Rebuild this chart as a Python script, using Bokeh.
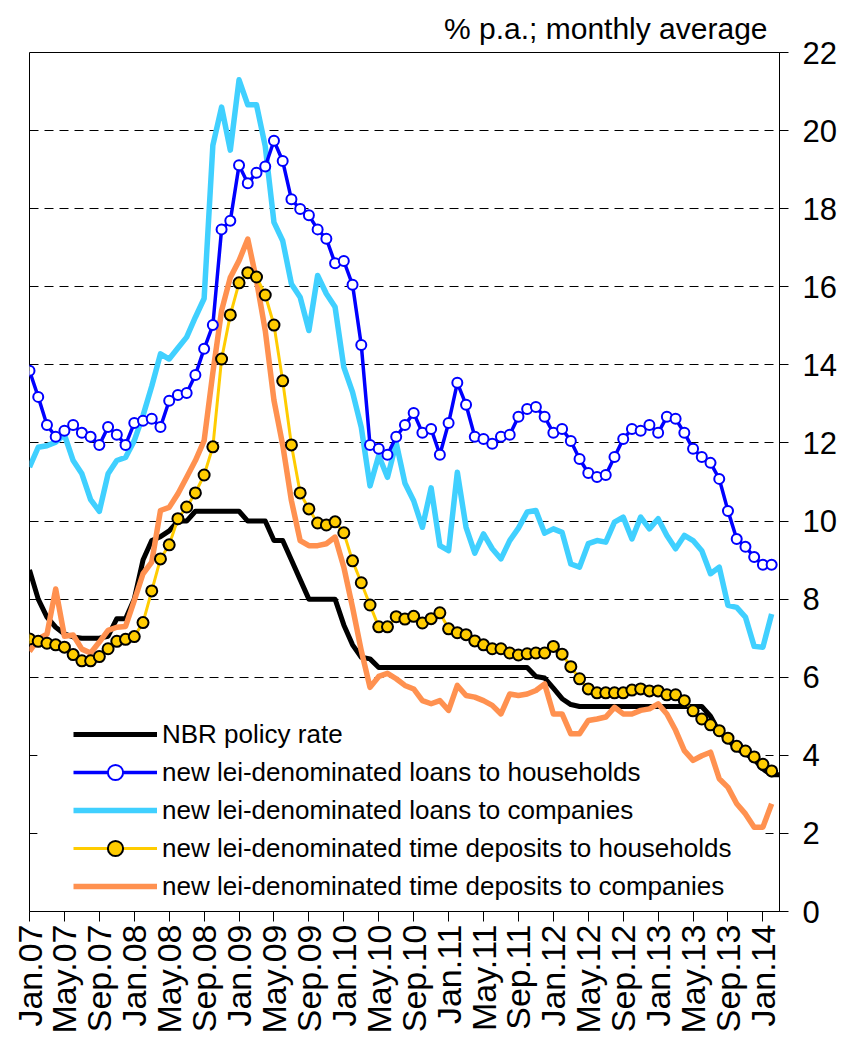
import math
from bokeh.plotting import figure
from bokeh.models import Range1d, FixedTicker, Legend, LegendItem, Title, BoxAnnotation
from bokeh.embed import file_html
from bokeh.resources import INLINE

# ---------------- data (monthly, Jan.07 = index 0) ----------------
tick_labels = ["Jan.07", "May.07", "Sep.07", "Jan.08", "May.08", "Sep.08",
               "Jan.09", "May.09", "Sep.09", "Jan.10", "May.10", "Sep.10",
               "Jan.11", "May.11", "Sep.11", "Jan.12", "May.12", "Sep.12",
               "Jan.13", "May.13", "Sep.13", "Jan.14"]

nbr_policy_rate = [8.75, 8.0, 7.54, 7.28, 7.11, 7.03, 7.0, 7.0, 7.0, 7.05,
                   7.5, 7.5, 8.0, 9.0, 9.5, 9.6, 9.75, 10.0, 10.0, 10.25,
                   10.25, 10.25, 10.25, 10.25, 10.25, 10.0, 10.0, 10.0, 9.5, 9.5,
                   9.0, 8.5, 8.0, 8.0, 8.0, 8.0, 7.34, 6.83, 6.51, 6.47,
                   6.25, 6.25, 6.25, 6.25, 6.25, 6.25, 6.25, 6.25, 6.25, 6.25,
                   6.25, 6.25, 6.25, 6.25, 6.25, 6.25, 6.25, 6.25, 6.02, 5.98,
                   5.72, 5.45, 5.3, 5.25, 5.25, 5.25, 5.25, 5.25, 5.25, 5.25,
                   5.25, 5.25, 5.25, 5.25, 5.25, 5.25, 5.25, 5.25, 5.0, 4.59,
                   4.4, 4.17, 4.04, 3.9, 3.65, 3.5, 3.5]

loans_households = [13.85, 13.18, 12.46, 12.16, 12.31, 12.46, 12.26, 12.16, 11.95, 12.41,
                    12.21, 11.95, 12.51, 12.57, 12.62, 12.41, 13.08, 13.23, 13.28, 13.74,
                    14.41, 15.02, 17.47, 17.69, 19.11, 18.65, 18.92, 19.08, 19.74, 19.22,
                    18.24, 17.99, 17.83, 17.47, 17.23, 16.60, 16.66, 16.05, 14.51, 11.95,
                    11.85, 11.70, 12.16, 12.46, 12.77, 12.26, 12.36, 11.70, 12.51, 13.54,
                    12.98, 12.16, 12.10, 11.98, 12.16, 12.21, 12.67, 12.87, 12.92, 12.67,
                    12.26, 12.36, 12.05, 11.59, 11.23, 11.13, 11.18, 11.64, 12.10, 12.36,
                    12.31, 12.46, 12.26, 12.67, 12.62, 12.26, 11.85, 11.64, 11.49, 11.08,
                    10.26, 9.54, 9.34, 9.08, 8.88, 8.88]

loans_companies = [11.38, 11.89, 11.93, 12.02, 12.21, 11.55, 11.21, 10.55, 10.25, 11.21,
                   11.55, 11.63, 12.06, 12.70, 13.45, 14.28, 14.15, 14.43, 14.71, 15.22,
                   15.70, 19.62, 20.60, 19.50, 21.30, 20.66, 20.66, 19.60, 17.65, 17.18,
                   16.07, 15.73, 14.88, 16.29, 15.82, 15.48, 13.94, 13.30, 12.40, 10.90,
                   11.68, 11.12, 12.00, 10.97, 10.52, 9.84, 10.85, 9.37, 9.24, 11.25,
                   9.84, 9.18, 9.67, 9.29, 9.03, 9.50, 9.82, 10.23, 10.27, 9.69,
                   9.80, 9.71, 8.90, 8.82, 9.42, 9.50, 9.46, 9.97, 10.10, 9.54,
                   10.10, 9.80, 10.06, 9.63, 9.29, 9.63, 9.50, 9.24, 8.65, 8.82,
                   7.84, 7.79, 7.54, 6.79, 6.77, 7.62]

deposits_households = [6.98, 6.92, 6.87, 6.83, 6.77, 6.58, 6.42, 6.42, 6.53, 6.73,
                       6.92, 6.97, 7.04, 7.40, 8.21, 9.03, 9.39, 10.06, 10.36, 10.72,
                       11.18, 11.90, 14.15, 15.28, 16.10, 16.36, 16.25, 15.79, 15.02, 13.59,
                       11.95, 10.72, 10.31, 9.95, 9.90, 9.98, 9.70, 8.98, 8.42, 7.85,
                       7.29, 7.29, 7.55, 7.49, 7.56, 7.39, 7.50, 7.65, 7.24, 7.14,
                       7.09, 6.93, 6.83, 6.73, 6.73, 6.62, 6.57, 6.60, 6.62, 6.62,
                       6.79, 6.59, 6.27, 5.96, 5.70, 5.60, 5.60, 5.60, 5.60, 5.67,
                       5.70, 5.65, 5.65, 5.55, 5.55, 5.40, 5.14, 4.93, 4.78, 4.63,
                       4.44, 4.23, 4.11, 3.96, 3.77, 3.60]

deposits_companies = [6.66, 6.98, 7.10, 8.26, 7.05, 7.08, 6.72, 6.62, 6.90, 7.20,
                      7.28, 7.30, 7.96, 8.65, 8.95, 10.27, 10.35, 10.70, 11.12, 11.55,
                      12.06, 13.80, 15.39, 16.24, 16.67, 17.22, 16.16, 14.88, 13.09, 11.95,
                      10.52, 9.50, 9.37, 9.37, 9.42, 9.59, 8.82, 7.79, 6.68, 5.74,
                      6.02, 6.10, 5.96, 5.79, 5.70, 5.40, 5.32, 5.40, 5.15, 5.79,
                      5.53, 5.49, 5.40, 5.28, 5.06, 5.57, 5.53, 5.57, 5.66, 5.83,
                      5.06, 5.06, 4.55, 4.55, 4.89, 4.93, 4.98, 5.23, 5.06, 5.06,
                      5.15, 5.19, 5.32, 5.06, 4.64, 4.12, 3.87, 3.99, 4.08, 3.40,
                      3.18, 2.76, 2.50, 2.16, 2.16, 2.76]

series_names = ["NBR policy rate",
                "new lei-denominated loans to households",
                "new lei-denominated loans to companies",
                "new lei-denominated time deposits to households",
                "new lei-denominated time deposits to companies"]

months = list(range(len(loans_households)))
months_policy = list(range(len(nbr_policy_rate)))
tick_positions = [4 * i for i in range(len(tick_labels))]
y_ticks = list(range(0, 23, 2))

FONT = "Liberation Sans"

p = figure(frame_width=750, frame_height=859,
           min_border_left=29, min_border_right=57,
           min_border_top=52, min_border_bottom=122,
           x_range=Range1d(0, 85.9), y_range=Range1d(0, 22),
           y_axis_location="right",
           output_backend="svg", toolbar_location=None)

p.background_fill_color = "white"
p.border_fill_color = "white"
p.outline_line_color = "black"
p.outline_line_width = 1

# title
p.title = Title(text="% p.a.; monthly average", align="right",
                text_font=FONT, text_font_size="30px",
                text_font_style="normal", text_color="black",
                offset=12, standoff=16)

# axes
xa = p.xaxis[0]
xa.ticker = FixedTicker(ticks=tick_positions)
xa.major_label_overrides = {t: lab for t, lab in zip(tick_positions, tick_labels)}
xa.major_label_orientation = math.pi / 2
xa.major_tick_out = 10
xa.major_tick_in = 0
xa.minor_tick_line_color = None
xa.axis_line_color = "black"
xa.major_tick_line_color = "black"
xa.major_label_text_font = FONT
xa.major_label_text_font_size = "34px"
xa.major_label_text_color = "black"
xa.major_label_standoff = 3

ya = p.yaxis[0]
ya.ticker = FixedTicker(ticks=y_ticks)
ya.major_tick_out = 9
ya.major_tick_in = 0
ya.minor_tick_line_color = None
ya.axis_line_color = "black"
ya.major_tick_line_color = "black"
ya.major_label_text_font = FONT
ya.major_label_text_font_size = "31px"
ya.major_label_text_color = "black"
ya.major_label_standoff = 14

p.xgrid.visible = False
p.ygrid.ticker = FixedTicker(ticks=y_ticks[1:-1])
p.ygrid.grid_line_color = "black"
p.ygrid.grid_line_dash = "9 6"
p.ygrid.grid_line_width = 1

# white legend area (sits above the grid, below the series)
legend_area = BoxAnnotation(left=0.9, right=84.3, bottom=0.05, top=5.0,
                            fill_color="white", fill_alpha=1.0,
                            line_color=None, level="underlay")
p.add_layout(legend_area)

# series
r_nbr = p.line(months_policy, nbr_policy_rate, line_color="black", line_width=5,
               line_join="round")
r_lc = p.line(months, loans_companies, line_color="#40D0FF", line_width=5.5,
              line_join="round")
r_dc = p.line(months, deposits_companies, line_color="#FF9150", line_width=5.5,
              line_join="round")
r_lh = p.line(months, loans_households, line_color="#0000FF", line_width=3.5,
              line_join="round")
r_lh_m = p.scatter(months, loans_households, marker="circle", size=10,
                   fill_color="white", line_color="#0000FF", line_width=2)
r_dh = p.line(months, deposits_households, line_color="#FFCC00", line_width=3,
              line_join="round")
r_dh_m = p.scatter(months, deposits_households, marker="circle", size=11,
                   fill_color="#FFCC00", line_color="black", line_width=2)

legend = Legend(items=[
    LegendItem(label=series_names[0], renderers=[r_nbr]),
    LegendItem(label=series_names[1], renderers=[r_lh, r_lh_m]),
    LegendItem(label=series_names[2], renderers=[r_lc]),
    LegendItem(label=series_names[3], renderers=[r_dh, r_dh_m]),
    LegendItem(label=series_names[4], renderers=[r_dc]),
], location=(40, 2))
legend.glyph_width = 84
legend.glyph_height = 38
legend.label_height = 38
legend.spacing = 0
legend.padding = 4
legend.margin = 0
legend.label_standoff = 5
legend.label_text_font = FONT
legend.label_text_font_size = "26px"
legend.label_text_color = "black"
legend.border_line_alpha = 0
legend.background_fill_alpha = 0
p.add_layout(legend)

open("out.html", "w").write(file_html(p, INLINE))
